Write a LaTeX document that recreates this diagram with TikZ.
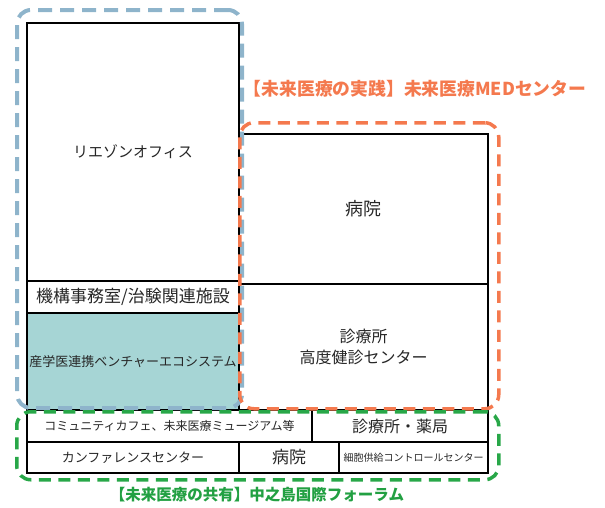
\documentclass[tikz,border=0pt]{standalone}
\usepackage{fontspec}
\setmainfont{Noto Sans CJK JP}
\definecolor{grpblue}{RGB}{142,180,203}
\definecolor{grporange}{RGB}{244,121,78}
\definecolor{grpgreen}{RGB}{40,167,72}
\definecolor{titlegreen}{RGB}{34,160,66}
\definecolor{tealfill}{RGB}{166,213,213}
\tikzset{
  cell/.style={draw=black, line width=2pt, anchor=north west, inner sep=0pt, align=center, text=black!85},
  frame/.style={rounded corners=14pt, anchor=north west, inner sep=0pt, dash pattern=on 12pt off 7.5pt},
  fs/.style={font=\fontsize{#1}{#1}\selectfont},
  fsb/.style={font=\fontsize{#1}{#1}\selectfont\bfseries},
}
\begin{document}
\begin{tikzpicture}[x=1pt,y=-1pt]
\useasboundingbox (0,0) rectangle (605,507);
% cells
\node[cell, minimum width=212, minimum height=258, fs=15] (liaison) at (26,22) {リエゾンオフィス};
\node[cell, minimum width=212, minimum height=32, fs=17] (kiko) at (26,280) {機構事務室/治験関連施設};
\node[cell, fill=tealfill, minimum width=212, minimum height=97, fs=13] (eco) at (26,312) {産学医連携ベンチャーエコシステム};
\node[cell, minimum width=249, minimum height=150, fs=18] (hosp) at (238,133) {病院};
\node[cell, minimum width=249, minimum height=126, fs=16] (clinic) at (238,283) {診療所\\[5pt]高度健診センター};
\node[cell, minimum width=285, minimum height=32, fs=12] (cafe) at (26,409) {コミュニティカフェ、未来医療ミュージアム等};
\node[cell, minimum width=176, minimum height=32, fs=16] (pharm) at (311,409) {診療所・薬局};
\node[cell, minimum width=212, minimum height=31, fs=13] (conf) at (26,441) {カンファレンスセンター};
\node[cell, minimum width=100, minimum height=31, fs=17] (hosp2) at (238,441) {病院};
\node[cell, minimum width=149, minimum height=31, fs=10] (cellctl) at (338,441) {細胞供給コントロールセンター};
% group frames
\node[frame, draw=grpblue, line width=4pt, minimum width=225, minimum height=398, dash pattern=on 14pt off 8pt] (gblue) at (15,8) {};
\node[frame, draw=grporange, line width=3.5pt, minimum width=259, minimum height=286] (gorange) at (238,121) {};
\node[frame, draw=grpgreen, line width=3.5pt, minimum width=482, minimum height=68] (ggreen) at (15,410) {};
% titles
\node[fsb=17.8, text=grporange, inner sep=0pt] (torange) at (415,89) {【未来医療の実践】未来医療MEDセンター};
\node[fsb=15.5, text=titlegreen, inner sep=0pt] (tgreen) at (257,495) {【未来医療の共有】中之島国際フォーラム};
\end{tikzpicture}
\end{document}
